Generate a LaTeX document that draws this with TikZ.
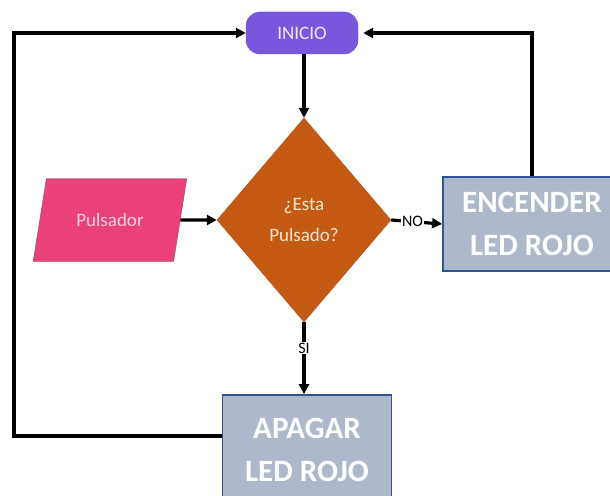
\documentclass[tikz,border=0pt]{standalone}
\usepackage{fontspec}
\setmainfont{Carlito}
\usepackage{tikz}
\usetikzlibrary{arrows.meta,shapes.geometric}

\begin{document}
\begin{tikzpicture}[x=1pt,y=-1pt,
  flow/.style={draw=black,line width=3.2pt,-{Triangle[length=10pt,width=10pt]}},
  ledbox/.style={rectangle,draw={rgb,255:red,47;green,85;blue,151},line width=1.8pt,fill={rgb,255:red,173;green,185;blue,202},text=white,font=\bfseries\fontsize{31}{43}\selectfont,align=center,inner sep=0pt},
  tag/.style={fill=white,inner sep=1pt,font=\fontsize{16}{18}\selectfont}]
\clip (0,0) rectangle (610,495);
\path[fill=white,draw=none] (0,0) rectangle (610,495);
\node[rectangle,rounded corners=14pt,fill={rgb,255:red,121;green,87;blue,220},draw={rgb,255:red,105;green,75;blue,200},minimum width=112pt,minimum height=42pt,text={rgb,255:red,245;green,228;blue,245},font=\fontsize{19}{22}\selectfont] (inicio) at (302,33) {INICIO};
\node[diamond,fill={rgb,255:red,196;green,90;blue,20},draw={rgb,255:red,170;green,80;blue,30},inner sep=0pt,minimum width=174pt,minimum height=204pt,text={rgb,255:red,250;green,230;blue,210},font=\fontsize{19}{31}\selectfont,align=center] (dec) at (304,220) {¿Esta\\Pulsado?};
\node[trapezium,trapezium left angle=69,trapezium right angle=111,trapezium stretches=true,fill={rgb,255:red,233;green,65;blue,120},draw={rgb,255:red,150;green,70;blue,130},minimum width=155pt,minimum height=83pt,text={rgb,255:red,250;green,210;blue,225},font=\fontsize{19}{22}\selectfont] (puls) at (110,220) {Pulsador};
\node[ledbox,minimum width=178pt,minimum height=94pt] (enc) at (532,224) {ENCENDER\\LED ROJO};
\node[ledbox,minimum width=169pt,minimum height=110pt] (apag) at (307,450) {APAGAR\\LED ROJO};
\draw[flow] (inicio.south -| dec.north) -- (dec.north);
\draw[flow] (puls.east) -- (dec.west);
\draw[flow] (dec.east) -- node[tag,pos=0.42] {NO} (enc.west);
\draw[flow] (dec.south) -- node[tag,pos=0.36] {SI} (dec.south |- apag.north);
\draw[flow] ([yshift=14pt]apag.west) -| (14,33) -- (inicio.west);
\draw[flow,shorten >=5pt] (enc.north) |- (inicio.east);
\end{tikzpicture}
\end{document}
